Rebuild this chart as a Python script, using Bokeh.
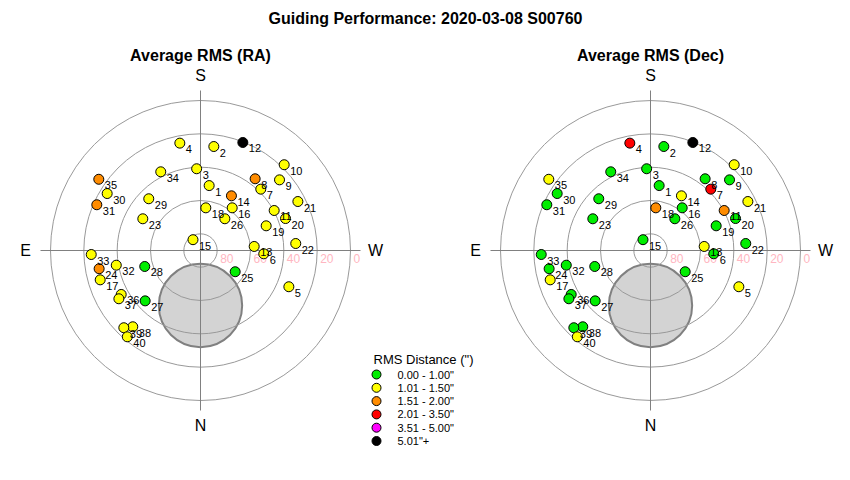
import numpy as np
from bokeh.plotting import figure
from bokeh.models import Range1d
from bokeh.core.properties import value
from bokeh.embed import file_html
from bokeh.resources import INLINE

# ---------------- data ----------------
title_text = "Guiding Performance: 2020-03-08 S00760"
panel_titles = ["Average RMS (RA)", "Average RMS (Dec)"]
compass_labels = ["S", "N", "E", "W"]
compass_az = [180, 0, 90, 270]
ring_alts = [80, 60, 40, 20, 0]
ring_labels = ["80", "60", "40", "20", "0"]

frame_ids = [str(i) for i in range(1, 41)]
azimuth = [187.6, 187.3, 177.3, 169.1, 292.3, 273.0, 224.5, 217.3, 228.2, 224.3,
           241.5, 201.4, 265.7, 209.5, 145.2, 216.6, 73.7, 187.1, 249.4, 249.4,
           243.3, 265.8, 118.8, 79.8, 301.5, 217.5, 47.7, 74.0, 135.0, 121.4,
           113.8, 80.1, 87.9, 153.2, 125.0, 61.0, 59.4, 41.6, 44.8, 40.3]
altitude = [50.7, 27.1, 40.9, 24.4, 32.7, 52.0, 38.4, 35.9, 26.4, 18.1,
            39.7, 20.4, 57.7, 52.3, 82.1, 58.1, 27.3, 64.2, 47.9, 35.5,
            24.6, 32.7, 50.5, 28.2, 65.6, 66.0, 45.1, 55.2, 46.1, 24.4,
            22.0, 38.7, 24.4, 37.1, 15.5, 35.6, 33.1, 28.8, 24.7, 22.1]
# RMS class index (into legend) per frame
ra_class = [1, 1, 1, 1, 1, 1, 1, 2, 1, 1,
            1, 5, 1, 2, 1, 1, 1, 1, 1, 1,
            1, 1, 1, 2, 0, 1, 0, 0, 1, 1,
            2, 1, 1, 1, 2, 1, 1, 1, 1, 1]
dec_class = [0, 0, 0, 3, 1, 0, 3, 0, 0, 1,
             2, 5, 1, 1, 0, 0, 1, 2, 0, 0,
             1, 0, 0, 0, 0, 0, 0, 0, 0, 0,
             0, 0, 0, 0, 1, 0, 0, 0, 0, 1]

legend_title = 'RMS Distance (")'
legend_labels = ['0.00 - 1.00"', '1.01 - 1.50"', '1.51 - 2.00"',
                 '2.01 - 3.50"', '3.51 - 5.00"', '5.01"+']
legend_colors = ["#00ee00", "#ffff00", "#ff8c00", "#ff0000", "#ff00ff", "#000000"]

obstruction_az = 0.0
obstruction_alt = 57.0
obstruction_radius = 25.0

# ---------------- layout ----------------
W, H = 834, 464
FONT = value("Liberation Sans")
centers = [(200.0, 250.0), (650.0, 250.0)]
K = 5.0 / 3.0  # px per degree of zenith distance


def polar(cx, cy, az, alt):
    az = np.radians(np.asarray(az, dtype=float))
    zd = 90.0 - np.asarray(alt, dtype=float)
    return cx - zd * K * np.sin(az), cy + zd * K * np.cos(az)


p = figure(width=W, height=H, x_range=Range1d(0, W), y_range=Range1d(H, 0),
           output_backend="svg", toolbar_location=None, x_axis_type=None,
           y_axis_type=None, min_border=0, outline_line_color=None)
p.xgrid.visible = False
p.ygrid.visible = False
p.background_fill_color = "white"

p.text([425], [18], text=[title_text], text_align="center", text_baseline="middle",
       text_font=FONT, text_font_size="16px", text_font_style="bold", text_color="black")

for (cx, cy), ptitle, classes in zip(centers, panel_titles, [ra_class, dec_class]):
    p.text([cx], [55], text=[ptitle], text_align="center", text_baseline="middle",
           text_font=FONT, text_font_size="16px", text_font_style="bold", text_color="black")
    # obstruction
    ox, oy = polar(cx, cy, [obstruction_az], [obstruction_alt])
    p.circle(ox, oy, radius=obstruction_radius * K, fill_color="#d3d3d3",
             line_color="#808080", line_width=2)
    # rings
    zd = 90 - np.array(ring_alts, dtype=float)
    p.circle([cx] * len(ring_alts), [cy] * len(ring_alts), radius=zd * K,
             fill_color=None, line_color="#999999", line_width=1)
    # cross
    p.segment([cx - 160, cx], [cy, cy - 160], [cx + 160, cx], [cy, cy + 160],
              line_color="#808080", line_width=1)
    # ring labels
    p.text(cx + zd * K + 3, [cy + 8] * len(ring_alts), text=ring_labels,
           text_align="left", text_baseline="middle", text_font=FONT,
           text_font_size="12px", text_color="#ffb6c1")
    # compass
    kx, ky = polar(cx, cy, compass_az, [90 - 175 / K] * 4)
    p.text(kx, ky, text=compass_labels, text_align="center", text_baseline="middle",
           text_font=FONT, text_font_size="16px", text_color="black")
    # points
    px, py = polar(cx, cy, azimuth, altitude)
    cols = [legend_colors[c] for c in classes]
    p.scatter(px, py, marker="circle", size=10, fill_color=cols, line_color="black",
              line_width=1)
    p.text(px, py, text=frame_ids, x_offset=6, y_offset=6, text_align="left",
           text_baseline="middle", text_font=FONT, text_font_size="11px",
           text_color="black")

# legend
p.text([373], [359], text=[legend_title], text_align="left", text_baseline="middle",
       text_font=FONT, text_font_size="13px", text_color="black")
ly = [374 + 13.3 * i for i in range(len(legend_labels))]
p.scatter([376] * len(ly), ly, marker="circle", size=9, fill_color=legend_colors,
          line_color="black", line_width=1)
p.text([397] * len(ly), ly, text=legend_labels, text_align="left", text_baseline="middle",
       text_font=FONT, text_font_size="11px", text_color="black")

open("out.html", "w").write(file_html(p, INLINE))
